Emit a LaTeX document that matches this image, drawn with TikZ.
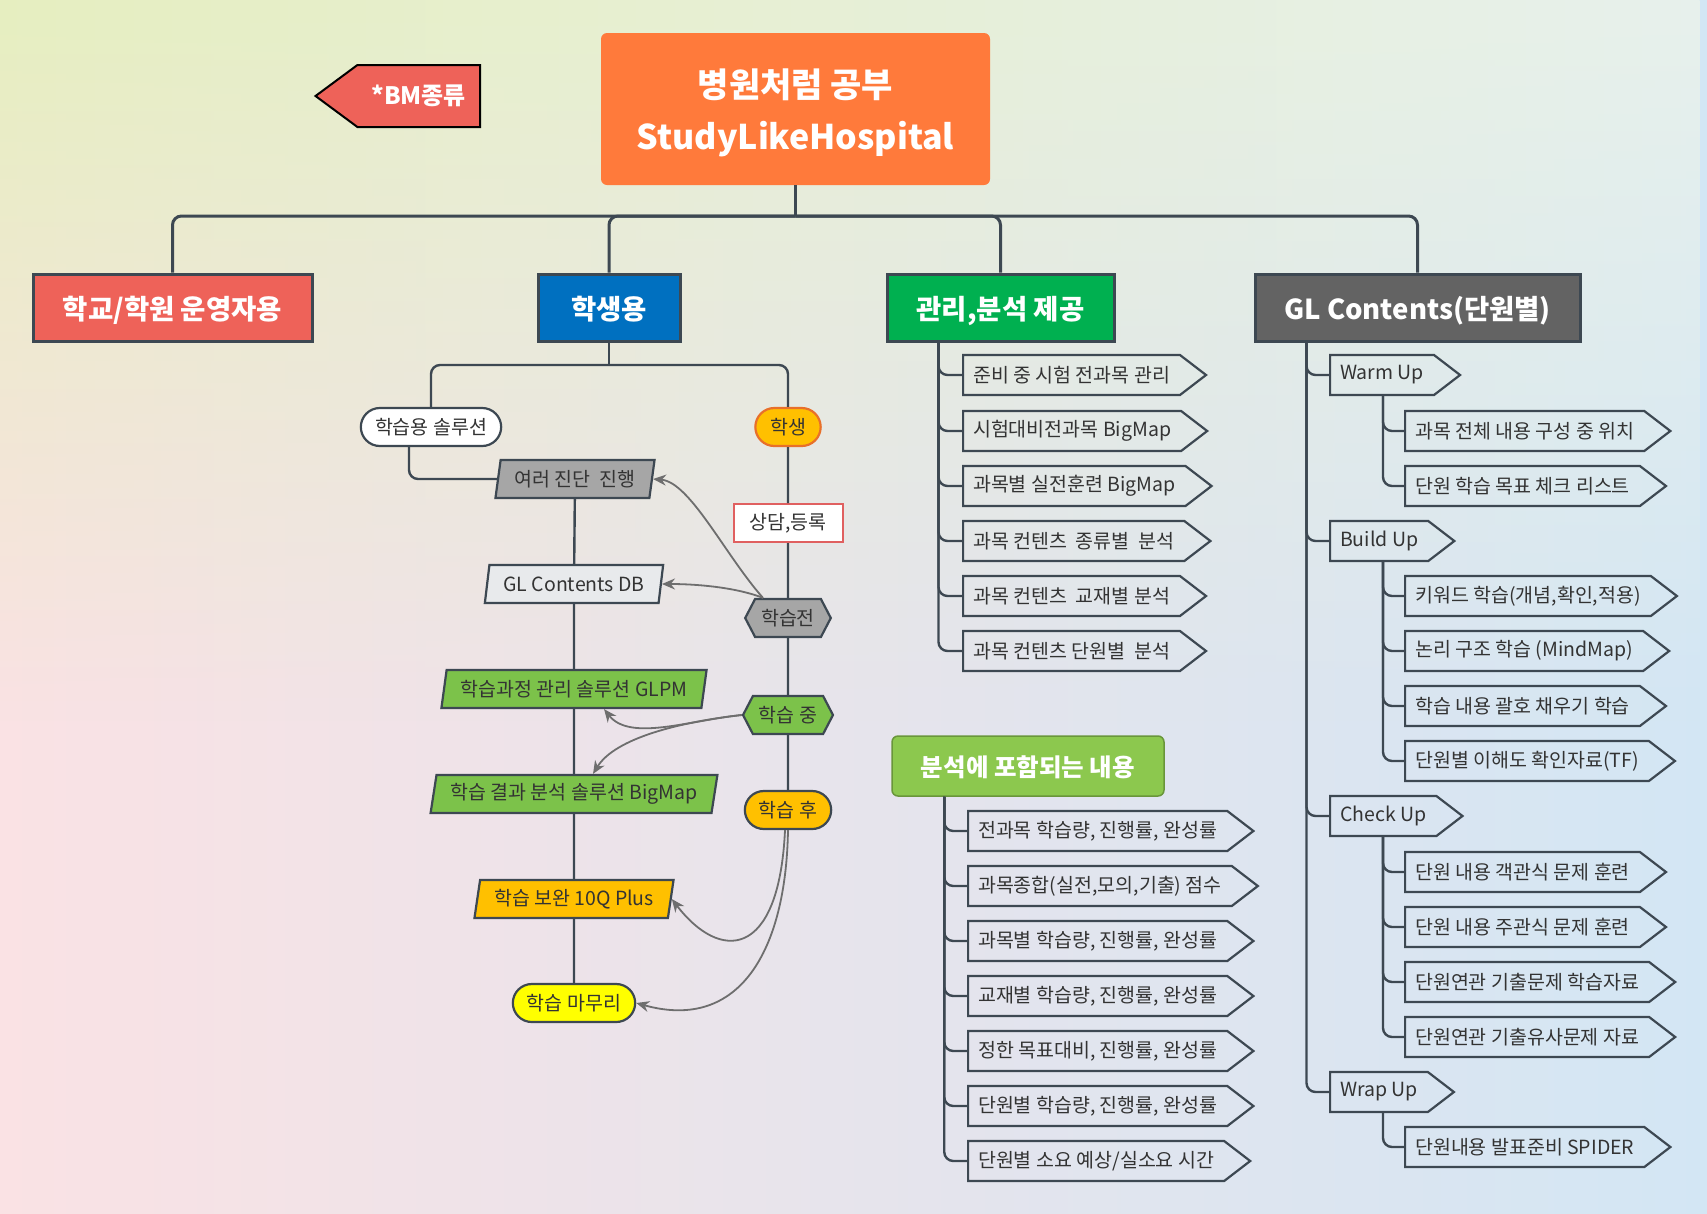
\documentclass[tikz,border=0pt]{standalone}
\usepackage{fontspec}
\setmainfont{Noto Sans CJK KR}
\usepackage{xcolor}
\usepackage{tikz}
\usetikzlibrary{arrows.meta,shapes.geometric,shapes.symbols,shapes.misc,fadings}

\definecolor{lineC}{HTML}{3D4852}
\definecolor{arrowC}{HTML}{6E6E6E}
\definecolor{txtC}{HTML}{333333}
\definecolor{titleC}{HTML}{FF7A3B}
\definecolor{redC}{HTML}{EE6259}
\definecolor{blueC}{HTML}{0070C0}
\definecolor{greenC}{HTML}{00B050}
\definecolor{grayC}{HTML}{636363}
\definecolor{limeC}{HTML}{7CC24A}
\definecolor{anaC}{HTML}{8CC84E}
\definecolor{amberC}{HTML}{FFC000}
\definecolor{yelC}{HTML}{FFFF00}
\definecolor{silverC}{HTML}{A6A6A6}
\definecolor{paleC}{HTML}{E8EAEC}
\definecolor{orangeLine}{HTML}{E8702A}
\definecolor{regLine}{HTML}{E06060}
\definecolor{bgPink}{HTML}{FAE2E4}
\definecolor{bgMid}{HTML}{F8E5E9}
\definecolor{bgBlue}{HTML}{D3E6F4}
\definecolor{bgUL}{HTML}{E6EFC0}
\definecolor{bgUM}{HTML}{F8F6DC}
\definecolor{bgUR}{HTML}{E8F1EC}

\begin{document}
\begin{tikzpicture}[
  x=1pt, y=-1pt,
  font=\fontsize{19.5}{22}\selectfont,
  every node/.style={align=center, text=txtC},
  link/.style={draw=lineC, line width=2.4pt, rounded corners=9pt},
  arr/.style={-{Stealth[length=13pt,width=11pt]}, draw=arrowC, line width=1.8pt},
  topbox/.style={rectangle, rounded corners=6pt, fill=titleC, text=white, minimum width=389pt, minimum height=152pt, text depth=0pt, font=\fontsize{34}{52}\selectfont\bfseries},
  catbox/.style={rectangle, draw=lineC, fill=#1, line width=3pt, minimum height=67pt, text depth=0pt, text=white, font=\fontsize{27.5}{30}\selectfont\bfseries},
  itembox/.style={signal, signal to=east, signal pointer angle=75, draw=lineC, line width=2.2pt, minimum height=40pt, inner xsep=10pt, anchor=west},
  flowbox/.style={trapezium, trapezium left angle=78, trapezium right angle=102, trapezium stretches=true, draw=lineC, fill=#1, line width=2.2pt, minimum height=38pt, inner xsep=14pt},
  pill/.style={rounded rectangle, draw=lineC, fill=#1, line width=2.2pt, minimum height=38pt},
  hexbox/.style={signal, signal to=east and west, signal pointer angle=125, draw=lineC, fill=#1, line width=2.2pt, minimum height=38pt, inner xsep=6pt}
]

  % background
  \useasboundingbox (0,0) rectangle (1707,1213);
  \shade[left color=bgPink, middle color=bgMid, right color=bgBlue] (0,0) rectangle (1707,1213);
  \shade[left color=bgUL, middle color=bgUM, right color=bgUR, path fading=south] (0,0) rectangle (1707,720);

  % root and tag
  \node[topbox] (root) at (795.5,109) {병원처럼 공부\\StudyLikeHospital};
  \node[signal, signal to=west, signal pointer angle=73, fill=redC, draw=black, line width=2pt, minimum height=62pt, inner xsep=14pt, text=white, font=\fontsize{24}{26}\selectfont\bfseries, anchor=east] (bm) at (481,96) {*BM종류};

  % categories
  \node[catbox=redC, minimum width=279pt] (school) at (172.5,307.5) {학교/학원 운영자용};
  \node[catbox=blueC, minimum width=142pt] (student) at (609,307.5) {학생용};
  \node[catbox=greenC, minimum width=227pt] (manage) at (1000.5,307.5) {관리,분석 제공};
  \node[catbox=grayC, minimum width=325pt] (contents) at (1417.5,307.5) {GL Contents(단원별)};

  \coordinate (hub) at (795.5,216);
  \draw[link, line width=3pt] (root.south) -- (hub);
  \draw[link, line width=3pt] (hub) -| (school.north);
  \draw[link, line width=3pt] (hub) -| (student.north);
  \draw[link, line width=3pt] (hub) -| (manage.north);
  \draw[link, line width=3pt] (hub) -| (contents.north);

  % student flow
  \node[pill=white, minimum width=147pt] (sol) at (431,427) {학습용 솔루션};
  \node[pill=amberC, draw=orangeLine, minimum width=72pt] (learner) at (788,427) {학생};
  \node[rectangle, fill=white, draw=regLine, line width=2pt, minimum width=109pt, minimum height=38pt] (reg) at (788,523) {상담,등록};
  \node[hexbox=silverC] (pre) at (788,618) {학습전};
  \node[hexbox=limeC] (mid) at (788,715) {학습 중};
  \node[pill=amberC, minimum width=93pt] (post) at (788,810) {학습 후};

  \node[flowbox=silverC] (diag) at (575,479) {여러 진단~ 진행};
  \node[flowbox=paleC] (db) at (574,584) {GL Contents DB};
  \node[flowbox=limeC] (glpm) at (574,689) {학습과정 관리 솔루션 GLPM};
  \node[flowbox=limeC] (bigmap) at (574,794) {학습 결과 분석 솔루션 BigMap};
  \node[flowbox=amberC] (plus) at (574,899) {학습 보완 10Q Plus};
  \node[pill=yelC, minimum width=129pt] (fin) at (574,1003) {학습 마무리};

  \coordinate (shub) at (609,365);
  \draw[link] (student.south) -- (shub);
  \draw[link] (shub) -| (sol.north);
  \draw[link] (shub) -| (learner.north);
  \draw[link] ([xshift=-22pt]sol.south) |- (diag.west);

  \draw[link] (diag) -- (db);
  \draw[link] (db) -- (glpm);
  \draw[link] (glpm) -- (bigmap);
  \draw[link] (bigmap) -- (plus);
  \draw[link] (plus) -- (fin);

  \draw[link] (learner) -- (reg);
  \draw[link] (reg) -- (pre);
  \draw[link] (pre) -- (mid);
  \draw[link] (mid) -- (post);

  \draw[arr] ([xshift=-25pt]pre.north) .. controls (725,555) and (690,482) .. (diag.east);
  \draw[arr] ([xshift=-25pt]pre.north) .. controls (738,588) and (700,584) .. (db.east);
  \draw[arr] (mid.west) .. controls (690,720) and (630,742) .. ([xshift=30pt]glpm.south);
  \draw[arr] (mid.west) .. controls (680,722) and (615,738) .. ([xshift=19pt]bigmap.north);
  \draw[arr] ([xshift=-3pt]post.south) .. controls (779,960) and (720,962) .. (plus.east);
  \draw[arr] (post.south) .. controls (786,950) and (740,1032) .. (fin.east);

  % management list
  \node[itembox] (m1) at (962,375) {준비 중 시험 전과목 관리};
  \node[itembox] (m2) at (962,431) {시험대비전과목 BigMap};
  \node[itembox] (m3) at (962,486) {과목별 실전훈련 BigMap};
  \node[itembox] (m4) at (962,541) {과목 컨텐츠~ 종류별~ 분석};
  \node[itembox] (m5) at (962,596) {과목 컨텐츠~ 교재별 분석};
  \node[itembox] (m6) at (962,651) {과목 컨텐츠 단원별~ 분석};
  \draw[link] ([xshift=53pt]manage.south west) |- (m1.west);
  \draw[link] ([xshift=53pt]manage.south west) |- (m2.west);
  \draw[link] ([xshift=53pt]manage.south west) |- (m3.west);
  \draw[link] ([xshift=53pt]manage.south west) |- (m4.west);
  \draw[link] ([xshift=53pt]manage.south west) |- (m5.west);
  \draw[link] ([xshift=53pt]manage.south west) |- (m6.west);

  % analysis list
  \node[rectangle, rounded corners=6pt, fill=anaC, draw=anaC!75!black, line width=1.5pt, minimum width=272pt, minimum height=60pt, text depth=0pt, text=white, font=\fontsize{24.5}{26}\selectfont\bfseries] (incl) at (1028,766) {분석에 포함되는 내용};
  \node[itembox] (a1) at (967,831) {전과목 학습량, 진행률, 완성률};
  \node[itembox] (a2) at (967,886) {과목종합(실전,모의,기출) 점수};
  \node[itembox] (a3) at (967,941) {과목별 학습량, 진행률, 완성률};
  \node[itembox] (a4) at (967,996) {교재별 학습량, 진행률, 완성률};
  \node[itembox] (a5) at (967,1051) {정한 목표대비, 진행률, 완성률};
  \node[itembox] (a6) at (967,1106) {단원별 학습량, 진행률, 완성률};
  \node[itembox] (a7) at (967,1161) {단원별 소요 예상/실소요 시간};
  \draw[link] ([xshift=53pt]incl.south west) |- (a1.west);
  \draw[link] ([xshift=53pt]incl.south west) |- (a2.west);
  \draw[link] ([xshift=53pt]incl.south west) |- (a3.west);
  \draw[link] ([xshift=53pt]incl.south west) |- (a4.west);
  \draw[link] ([xshift=53pt]incl.south west) |- (a5.west);
  \draw[link] ([xshift=53pt]incl.south west) |- (a6.west);
  \draw[link] ([xshift=53pt]incl.south west) |- (a7.west);

  % contents tree
  \node[itembox] (warm) at (1329,375) {Warm Up};
  \node[itembox] (build) at (1329,541) {Build Up};
  \node[itembox] (check) at (1329,816) {Check Up};
  \node[itembox] (wrap) at (1329,1092) {Wrap Up};
  \draw[link] ([xshift=53pt]contents.south west) |- (warm.west);
  \draw[link] ([xshift=53pt]contents.south west) |- (build.west);
  \draw[link] ([xshift=53pt]contents.south west) |- (check.west);
  \draw[link] ([xshift=53pt]contents.south west) |- (wrap.west);

  \node[itembox] (w1) at (1404,431) {과목 전체 내용 구성 중 위치};
  \node[itembox] (w2) at (1404,486) {단원 학습 목표 체크 리스트};
  \draw[link] ([xshift=54pt]warm.south west) |- (w1.west);
  \draw[link] ([xshift=54pt]warm.south west) |- (w2.west);

  \node[itembox] (b1) at (1404,596) {키워드 학습(개념,확인,적용)};
  \node[itembox] (b2) at (1404,651) {논리 구조 학습 (MindMap)};
  \node[itembox] (b3) at (1404,706) {학습 내용 괄호 채우기 학습};
  \node[itembox] (b4) at (1404,761) {단원별 이해도 확인자료(TF)};
  \draw[link] ([xshift=54pt]build.south west) |- (b1.west);
  \draw[link] ([xshift=54pt]build.south west) |- (b2.west);
  \draw[link] ([xshift=54pt]build.south west) |- (b3.west);
  \draw[link] ([xshift=54pt]build.south west) |- (b4.west);

  \node[itembox] (c1) at (1404,872) {단원 내용 객관식 문제 훈련};
  \node[itembox] (c2) at (1404,927) {단원 내용 주관식 문제 훈련};
  \node[itembox] (c3) at (1404,982) {단원연관 기출문제 학습자료};
  \node[itembox] (c4) at (1404,1037) {단원연관 기출유사문제 자료};
  \draw[link] ([xshift=54pt]check.south west) |- (c1.west);
  \draw[link] ([xshift=54pt]check.south west) |- (c2.west);
  \draw[link] ([xshift=54pt]check.south west) |- (c3.west);
  \draw[link] ([xshift=54pt]check.south west) |- (c4.west);

  \node[itembox] (p1) at (1404,1147) {단원내용 발표준비 SPIDER};
  \draw[link] ([xshift=54pt]wrap.south west) |- (p1.west);

\end{tikzpicture}
\end{document}
